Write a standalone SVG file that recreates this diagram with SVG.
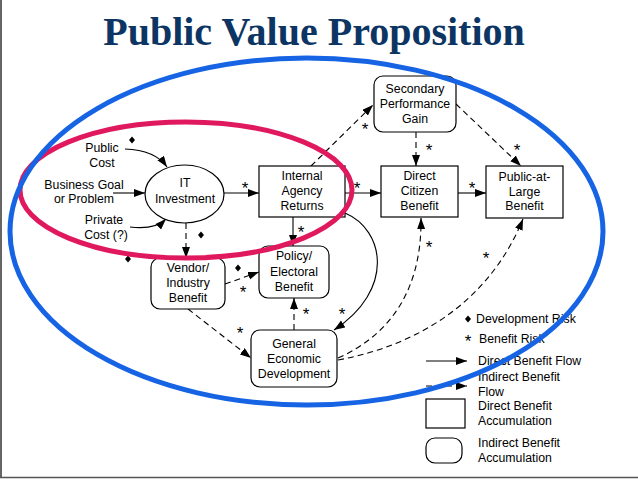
<svg xmlns="http://www.w3.org/2000/svg" width="638" height="479" viewBox="0 0 638 479">
<style>
.t{font-family:"Liberation Sans",Arial,sans-serif;font-size:12.3px;fill:#000;text-anchor:middle}
.l{font-family:"Liberation Sans",Arial,sans-serif;font-size:12.3px;fill:#000;text-anchor:start}
.st{font-family:"Liberation Sans",Arial,sans-serif;font-size:17px;fill:#000;text-anchor:middle}
.box{fill:#fff;stroke:#000;stroke-width:1.2}
.ln{fill:none;stroke:#000;stroke-width:1.1}
.ds{fill:none;stroke:#000;stroke-width:1.1;stroke-dasharray:6,4}
.arr{marker-end:url(#ah)}
</style>
<defs>
<marker id="ah" markerUnits="userSpaceOnUse" markerWidth="12" markerHeight="9" refX="11" refY="4" orient="auto">
<path d="M0,0 L11,4 L0,8 z" fill="#000"/>
</marker>
<polygon id="dm" points="0,-3.5 3,0 0,3.5 -3,0" fill="#000"/>
</defs>
<rect width="638" height="479" fill="#fff"/>
<line x1="1" y1="0" x2="1" y2="478" stroke="#333" stroke-width="1.5"/>
<line x1="0" y1="477.5" x2="638" y2="477.5" stroke="#555" stroke-width="1.5"/>
<text x="314" y="45" text-anchor="middle" style="font-family:'Liberation Serif','Times New Roman',serif;font-weight:bold;font-size:40px;fill:#0d3563">Public Value Proposition</text>

<g id="connectors">
<path class="ln arr" d="M125,149 Q155,150 167,167"/>
<line class="ln arr" x1="113" y1="193" x2="145" y2="193"/>
<path class="ln arr" d="M130,227 Q155,230 166,219"/>
<line class="ln arr" x1="224" y1="193" x2="259" y2="193"/>
<line class="ds arr" x1="186" y1="223" x2="186" y2="258"/>
<line class="ln arr" x1="293" y1="217" x2="293" y2="246"/>
<line class="ds arr" x1="311" y1="166" x2="373" y2="105"/>
<line class="ln arr" x1="345" y1="193" x2="381" y2="193"/>
<line class="ds arr" x1="416" y1="132" x2="416" y2="166"/>
<line class="ds arr" x1="456" y1="104" x2="521" y2="166"/>
<line class="ln arr" x1="458" y1="193" x2="486" y2="193"/>
<line class="ds arr" x1="225" y1="284" x2="259" y2="272"/>
<line class="ds arr" x1="188" y1="309" x2="251" y2="358"/>
<line class="ds arr" x1="294" y1="330" x2="294" y2="298"/>
<path class="ln arr" d="M345,213 C385,230 395,290 334,330"/>
<path class="ds arr" d="M338,358 C390,335 422,290 421,218"/>
<path class="ds arr" d="M338,360 C420,345 490,300 523,219"/>
</g>

<g id="markers">
<use href="#dm" x="132" y="140"/>
<use href="#dm" x="201" y="235"/>
<use href="#dm" x="128" y="259"/>
<use href="#dm" x="238" y="268"/>
<text class="st" x="245" y="194">*</text>
<text class="st" x="301" y="238">*</text>
<text class="st" x="365" y="135">*</text>
<text class="st" x="357" y="194">*</text>
<text class="st" x="429" y="156">*</text>
<text class="st" x="517" y="156">*</text>
<text class="st" x="472" y="194">*</text>
<text class="st" x="243" y="298">*</text>
<text class="st" x="240" y="339">*</text>
<text class="st" x="306" y="320">*</text>
<text class="st" x="342" y="320">*</text>
<text class="st" x="429" y="253">*</text>
<text class="st" x="486" y="264">*</text>
</g>

<g id="inputs">
<text class="t" x="102" y="152">Public</text>
<text class="t" x="102" y="167">Cost</text>
<text class="t" x="84" y="189">Business Goal</text>
<text class="t" x="84" y="203">or Problem</text>
<text class="t" x="104" y="224">Private</text>
<text class="t" x="106" y="239">Cost (?)</text>
</g>

<g id="it-investment">
<ellipse cx="184.5" cy="194" rx="39.5" ry="29" class="box"/>
<text class="t" x="185" y="187">IT</text>
<text class="t" x="185" y="203">Investment</text>
</g>
<g id="internal-agency-returns">
<rect x="259" y="166" width="86" height="51" class="box"/>
<text class="t" x="302" y="180">Internal</text>
<text class="t" x="302" y="195">Agency</text>
<text class="t" x="302" y="210">Returns</text>
</g>
<g id="secondary-performance-gain">
<rect x="374" y="76" width="82" height="56" rx="9" class="box"/>
<text class="t" x="415" y="93">Secondary</text>
<text class="t" x="415" y="108">Performance</text>
<text class="t" x="415" y="123">Gain</text>
</g>
<g id="direct-citizen-benefit">
<rect x="381" y="166" width="77" height="51" class="box"/>
<text class="t" x="419.5" y="180">Direct</text>
<text class="t" x="419.5" y="195">Citizen</text>
<text class="t" x="419.5" y="210">Benefit</text>
</g>
<g id="public-at-large-benefit">
<rect x="486" y="166" width="77" height="52" class="box"/>
<text class="t" x="524.5" y="181">Public-at-</text>
<text class="t" x="524.5" y="196">Large</text>
<text class="t" x="524.5" y="210">Benefit</text>
</g>
<g id="vendor-industry-benefit">
<rect x="151" y="258" width="74" height="51" rx="9" class="box"/>
<text class="t" x="188" y="272">Vendor/</text>
<text class="t" x="188" y="287">Industry</text>
<text class="t" x="188" y="302">Benefit</text>
</g>
<g id="policy-electoral-benefit">
<rect x="259" y="246" width="70" height="52" rx="9" class="box"/>
<text class="t" x="294" y="260">Policy/</text>
<text class="t" x="294" y="276">Electoral</text>
<text class="t" x="294" y="291">Benefit</text>
</g>
<g id="general-economic-development">
<rect x="251" y="330" width="86" height="57" rx="9" class="box"/>
<text class="t" x="294" y="348">General</text>
<text class="t" x="294" y="363">Economic</text>
<text class="t" x="294" y="378">Development</text>
</g>

<g id="legend">
<use href="#dm" x="468" y="319"/>
<text class="l" x="476" y="323">Development Risk</text>
<text class="st" x="468" y="347">*</text>
<text class="l" x="479" y="343">Benefit Risk</text>
<line class="ln arr" x1="426" y1="361" x2="467" y2="361"/>
<text class="l" x="478" y="365">Direct Benefit Flow</text>
<line class="ds arr" x1="426" y1="386" x2="467" y2="386"/>
<text class="l" x="478" y="381">Indirect Benefit</text>
<text class="l" x="478" y="396">Flow</text>
<rect x="426" y="399" width="39" height="29" class="box"/>
<text class="l" x="478" y="410">Direct Benefit</text>
<text class="l" x="478" y="425">Accumulation</text>
<rect x="426" y="438" width="36" height="25" rx="9" class="box"/>
<text class="l" x="478" y="447">Indirect Benefit</text>
<text class="l" x="478" y="462">Accumulation</text>
</g>

<g id="highlights">
<ellipse cx="186" cy="190" rx="166" ry="68" fill="none" stroke="#e0195f" stroke-width="5"/>
<ellipse cx="306.5" cy="231.5" rx="296.5" ry="173.5" fill="none" stroke="#1664e4" stroke-width="5"/>
</g>
</svg>
